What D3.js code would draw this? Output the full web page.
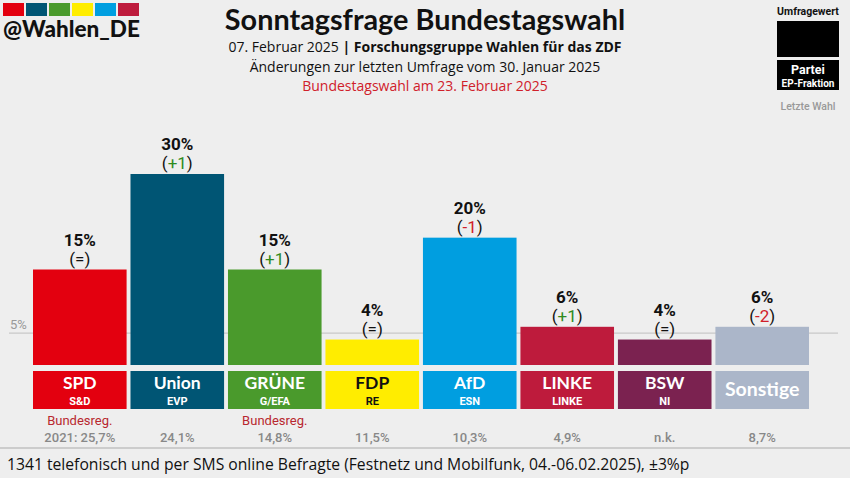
<!DOCTYPE html>
<html><head><meta charset="utf-8">
<script src="https://cdn.jsdelivr.net/npm/d3@7"></script>
<style>html,body{margin:0;padding:0;background:#eeeeee;}svg{display:block;}</style>
</head><body>
<script>
const parties = ["SPD","Union","GRÜNE","FDP","AfD","LINKE","BSW","Sonstige"];
const groups = ["S&D","EVP","G/EFA","RE","ESN","LINKE","NI",""];
const values = [15,30,15,4,20,6,4,6];
const changes = ["=","+1","+1","=","-1","+1","=","-2"];
const lastElection = ["2021: 25,7%","24,1%","14,8%","11,5%","10,3%","4,9%","n.k.","8,7%"];
const govNote = ["Bundesreg.","","Bundesreg.","","","","",""];
const colors = ["#e3000f","#005574","#4a9a2c","#ffed00","#009ee0","#be1b3c","#7b2250","#abb6c9"];
const textColors = ["#fff","#fff","#fff","#111","#fff","#fff","#fff","#fff"];
const threshold = 5;

const W=850,H=478;
const svg=d3.select("body").append("svg").attr("width",W).attr("height",H);
svg.append("rect").attr("width",W).attr("height",H).attr("fill","#eeeeee");

const x=d3.scaleBand().domain(parties).range([33,809]).paddingInner(0.04).paddingOuter(0);
const y=d3.scaleLinear().domain([0,30]).range([365,174]);

// logo
const logoCols=["#e3000f","#005574","#4a9a2c","#ffed00","#009ee0","#be1b3c"];
svg.selectAll(".lg").data(logoCols).join("rect").attr("x",(d,i)=>3+i*23).attr("y",3).attr("width",21).attr("height",13).attr("fill",d=>d);
svg.append("text").attr("x",3).attr("y",37).text("@Wahlen_DE").attr("font-family","Lato, sans-serif").attr("font-weight",900).attr("font-size",22.5).attr("fill","#111");

// title
svg.append("text").attr("x",425).attr("y",30).attr("text-anchor","middle").text("Sonntagsfrage Bundestagswahl").attr("font-family","Lato, sans-serif").attr("font-weight",700).attr("font-size",28.8).attr("fill","#111");
const st=svg.append("text").attr("x",425).attr("y",52).attr("text-anchor","middle").attr("font-family","'Open Sans', sans-serif").attr("font-size",14).attr("fill","#111");
st.append("tspan").text("07. Februar 2025 ");
st.append("tspan").attr("font-weight",700).text("| Forschungsgruppe Wahlen für das ZDF");
svg.append("text").attr("x",425).attr("y",72).attr("text-anchor","middle").attr("font-family","'Open Sans', sans-serif").attr("font-size",14).attr("fill","#111").text("Änderungen zur letzten Umfrage vom 30. Januar 2025");
svg.append("text").attr("x",425).attr("y",91).attr("text-anchor","middle").attr("font-family","'Open Sans', sans-serif").attr("font-size",14).attr("fill","#d0202a").text("Bundestagswahl am 23. Februar 2025");

// legend
svg.append("text").attr("x",808).attr("y",15).attr("text-anchor","middle").attr("font-family","Roboto, sans-serif").attr("font-weight",700).attr("font-size",10.5).attr("fill","#111").text("Umfragewert");
svg.append("rect").attr("x",777).attr("y",21).attr("width",62).attr("height",36).attr("fill","#000");
svg.append("rect").attr("x",777).attr("y",60).attr("width",62).attr("height",30).attr("fill","#000");
svg.append("text").attr("x",808).attr("y",73.5).attr("text-anchor","middle").attr("font-family","Roboto, sans-serif").attr("font-weight",700).attr("font-size",12.5).attr("fill","#fff").text("Partei");
svg.append("text").attr("x",808).attr("y",87).attr("text-anchor","middle").attr("font-family","Roboto, sans-serif").attr("font-weight",700).attr("font-size",10).attr("fill","#fff").text("EP-Fraktion");
svg.append("text").attr("x",808).attr("y",110).attr("text-anchor","middle").attr("font-family","Roboto, sans-serif").attr("font-weight",500).attr("font-size",10.5).attr("fill","#999").text("Letzte Wahl");

// threshold line
svg.append("line").attr("x1",9).attr("x2",838).attr("y1",y(threshold)).attr("y2",y(threshold)).attr("stroke","#c8c8c8").attr("stroke-width",1.2);
svg.append("text").attr("x",10).attr("y",y(threshold)-4).attr("font-family","Roboto, sans-serif").attr("font-size",13).attr("fill","#999").text(threshold+"%");

// bars
const g=svg.selectAll(".bar").data(parties).join("g");
g.append("rect").attr("x",d=>x(d)).attr("y",(d,i)=>y(values[i])).attr("width",x.bandwidth()).attr("height",(d,i)=>y(0)-y(values[i])).attr("fill",(d,i)=>colors[i]);
g.append("text").attr("x",d=>x(d)+x.bandwidth()/2).attr("y",(d,i)=>y(values[i])-24).attr("text-anchor","middle").attr("font-family","Roboto, sans-serif").attr("font-weight",700).attr("font-size",17).attr("fill","#111").text((d,i)=>values[i]+"%");
const ch=g.append("text").attr("x",d=>x(d)+x.bandwidth()/2).attr("y",(d,i)=>y(values[i])-5).attr("text-anchor","middle").attr("font-family","Roboto, sans-serif").attr("font-size",17).attr("fill","#111");
ch.append("tspan").text("(");
ch.append("tspan").attr("fill",(d,i)=>changes[i].startsWith("+")?"#2e8a1e":changes[i].startsWith("-")?"#d0202a":"#111").text((d,i)=>changes[i]);
ch.append("tspan").text(")");

// label boxes
g.append("rect").attr("x",d=>x(d)).attr("y",371).attr("width",x.bandwidth()).attr("height",38).attr("fill",(d,i)=>colors[i]);
g.append("text").attr("x",d=>x(d)+x.bandwidth()/2).attr("y",(d,i)=>groups[i]?389:396).attr("text-anchor","middle").attr("font-family","Lato, sans-serif").attr("font-weight",700).attr("font-size",(d,i)=>groups[i]?17.5:19.5).attr("fill",(d,i)=>textColors[i]).text(d=>d);
g.append("text").attr("x",d=>x(d)+x.bandwidth()/2).attr("y",404.5).attr("text-anchor","middle").attr("font-family","Roboto, sans-serif").attr("font-weight",700).attr("font-size",11).attr("fill",(d,i)=>textColors[i]).text((d,i)=>groups[i]);
g.append("text").attr("x",d=>x(d)+x.bandwidth()/2).attr("y",425).attr("text-anchor","middle").attr("font-family","Roboto, sans-serif").attr("font-size",13).attr("fill","#b8282f").text((d,i)=>govNote[i]);
g.append("text").attr("x",d=>x(d)+x.bandwidth()/2).attr("y",442).attr("text-anchor","middle").attr("font-family","Roboto, sans-serif").attr("font-weight",500).attr("font-size",13).attr("fill","#888").text((d,i)=>lastElection[i]);

// footer
svg.append("line").attr("x1",0).attr("x2",W).attr("y1",448).attr("y2",448).attr("stroke","#aaa").attr("stroke-width",1);
svg.append("text").attr("x",7).attr("y",470).attr("font-family","'Open Sans', sans-serif").attr("font-size",15.7).attr("fill","#111").text("1341 telefonisch und per SMS online Befragte (Festnetz und Mobilfunk, 04.-06.02.2025), ±3%p");
</script>
</body></html>
